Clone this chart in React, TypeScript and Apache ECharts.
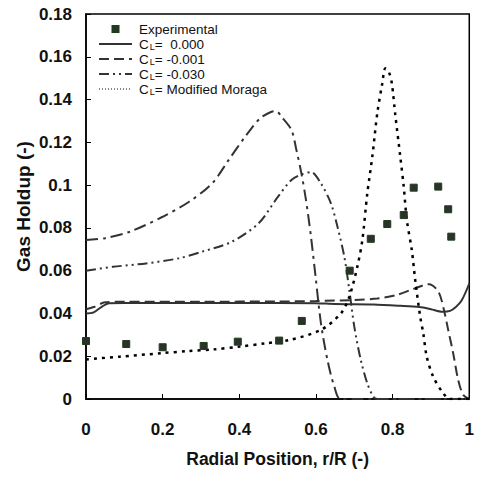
import React, { useEffect, useRef } from "react";
import * as echarts from "echarts";

const expX = [0, 0.105, 0.2, 0.307, 0.396, 0.504, 0.563, 0.688, 0.743, 0.786, 0.829, 0.855, 0.919, 0.945, 0.953];
const expY = [0.0271, 0.0257, 0.0242, 0.0248, 0.0268, 0.0273, 0.0365, 0.06, 0.0749, 0.0818, 0.086, 0.0988, 0.0993, 0.0887, 0.0759];

const cl0X = [0, 0.02, 0.04, 0.06, 0.1, 0.2, 0.3, 0.4, 0.5, 0.6, 0.65, 0.75, 0.82, 0.87, 0.9, 0.93, 0.95, 0.965, 0.98, 1.0];
const cl0Y = [0.04, 0.0405, 0.043, 0.0448, 0.0449, 0.0449, 0.0449, 0.0449, 0.0449, 0.0448, 0.0444, 0.0442, 0.0436, 0.043, 0.042, 0.0408, 0.0412, 0.043, 0.046, 0.054];

const cl1X = [0, 0.02, 0.05, 0.1, 0.3, 0.5, 0.6, 0.7, 0.76, 0.81, 0.855, 0.895, 0.92, 0.936, 0.945, 0.958, 0.971, 0.984, 1.0];
const cl1Y = [0.042, 0.043, 0.0452, 0.0455, 0.0455, 0.0456, 0.0458, 0.0463, 0.047, 0.0486, 0.0515, 0.0537, 0.05, 0.04, 0.0323, 0.0214, 0.009, 0.002, 0];

const upperX = [0, 0.05, 0.114, 0.2, 0.269, 0.329, 0.372, 0.415, 0.454, 0.484, 0.496, 0.51, 0.536, 0.549, 0.562, 0.574, 0.587, 0.6, 0.613, 0.63, 0.648, 0.665, 1.0];
const upperY = [0.0743, 0.0752, 0.0782, 0.0852, 0.0922, 0.1008, 0.1117, 0.1226, 0.1312, 0.1343, 0.1346, 0.132, 0.1258, 0.1164, 0.1055, 0.093, 0.0759, 0.0556, 0.0354, 0.0182, 0.0058, 0, 0];

const cl30X = [0, 0.07, 0.157, 0.243, 0.303, 0.38, 0.45, 0.501, 0.536, 0.565, 0.587, 0.613, 0.639, 0.656, 0.674, 0.687, 0.7, 0.717, 0.734, 0.75, 0.76, 1.0];
const cl30Y = [0.06, 0.0618, 0.0634, 0.0658, 0.0689, 0.0735, 0.0821, 0.0946, 0.1024, 0.1052, 0.1061, 0.1008, 0.0915, 0.0806, 0.0665, 0.051, 0.0338, 0.0182, 0.0073, 0.001, 0, 0];

const morX = [0, 0.088, 0.196, 0.264, 0.333, 0.402, 0.467, 0.531, 0.613, 0.665, 0.687, 0.708, 0.721, 0.734, 0.747, 0.76, 0.773, 0.781, 0.79, 0.798, 0.807, 0.82, 0.829, 0.837, 0.85, 0.859, 0.872, 0.88, 0.889, 0.906, 0.932, 0.95, 1.0];
const morY = [0.0185, 0.0198, 0.0214, 0.0224, 0.0232, 0.0245, 0.026, 0.0276, 0.0323, 0.04, 0.0478, 0.0619, 0.0743, 0.0962, 0.1133, 0.1336, 0.1475, 0.1546, 0.153, 0.1475, 0.1328, 0.1133, 0.0993, 0.0837, 0.0697, 0.0556, 0.0385, 0.0307, 0.0198, 0.0104, 0.0027, 0, 0];

const xTicks = { min: 0, max: 1, interval: 0.2 };
const yTicks = { min: 0, max: 0.18, interval: 0.02 };

const zip = (xs: number[], ys: number[]) => xs.map((x, i) => [x, ys[i]]);

const FONT = "'Liberation Sans', Arial, sans-serif";
const LINE = "#333333";
const HIDE_SYMBOL = { color: "transparent", opacity: 0, borderWidth: 0 };

export default function App() {
  const ref = useRef<HTMLDivElement>(null);
  useEffect(() => {
    if (!ref.current) return;
    const chart = echarts.init(ref.current, undefined, { renderer: "svg" });
    const legendText = (name: string) => {
      if (name === "Experimental") return "Experimental";
      return "C{sub|L}" + name.replace(/^CL/, "");
    };
    chart.setOption({
      animation: false,
      backgroundColor: "#ffffff",
      grid: {
        left: 86,
        right: 4,
        top: 14,
        bottom: 78,
        show: true,
        borderColor: "#000",
        borderWidth: 1.5,
        backgroundColor: "transparent",
      },
      legend: {
        orient: "vertical",
        left: 93,
        top: 17,
        itemWidth: 33,
        itemHeight: 6,
        itemGap: 1,
        symbolKeepAspect: true,
        selectedMode: false,
        formatter: legendText,
        textStyle: {
          fontFamily: FONT,
          fontSize: 13.5,
          lineHeight: 14,
          color: "#111",
          padding: [0, 0, 0, 2],
          rich: {
            sub: { fontFamily: FONT, fontSize: 9, lineHeight: 9, verticalAlign: "bottom", color: "#111", padding: [0, 0, 0, 1] },
          },
        },
        data: [
          { name: "Experimental", icon: "path://M0,0h1v1h-1z" },
          { name: "CL=  0.000", itemStyle: HIDE_SYMBOL },
          { name: "CL= -0.001", itemStyle: HIDE_SYMBOL },
          { name: "CL= -0.030", itemStyle: HIDE_SYMBOL },
          { name: "CL= Modified Moraga", itemStyle: HIDE_SYMBOL, lineStyle: { type: [1, 2], width: 1.2, color: "#111" } },
        ],
      },
      xAxis: {
        type: "value",
        ...xTicks,
        name: "Radial Position, r/R (-)",
        nameLocation: "middle",
        nameGap: 51,
        nameTextStyle: { fontFamily: FONT, fontWeight: "bold", fontSize: 17.5, color: "#111" },
        axisLine: { show: true, lineStyle: { color: "#000", width: 1.5 } },
        axisTick: { show: true, inside: true, length: 5, lineStyle: { color: "#000", width: 1 } },
        axisLabel: { margin: 22, fontFamily: FONT, fontWeight: "bold", fontSize: 17, color: "#111" },
        splitLine: { show: false },
      },
      yAxis: {
        type: "value",
        ...yTicks,
        name: "Gas Holdup (-)",
        nameLocation: "middle",
        nameGap: 53,
        nameMoveOverlap: false,
        nameTextStyle: { fontFamily: FONT, fontWeight: "bold", fontSize: 19, color: "#111" },
        axisLine: { show: true, lineStyle: { color: "#000", width: 1.5 } },
        axisTick: { show: true, inside: true, length: 5, lineStyle: { color: "#000", width: 1 } },
        axisLabel: { margin: 14, fontFamily: FONT, fontWeight: "bold", fontSize: 17, color: "#111" },
        splitLine: { show: false },
      },
      series: [
        {
          name: "CL=  0.000",
          type: "line",
          data: zip(cl0X, cl0Y),
          symbol: "none",
          smooth: 0.3,
          lineStyle: { color: LINE, width: 2, type: "solid" },
          itemStyle: { color: LINE },
          z: 3,
        },
        {
          name: "CL= -0.001",
          type: "line",
          data: zip(cl1X, cl1Y),
          symbol: "none",
          smooth: 0.3,
          lineStyle: { color: LINE, width: 2, type: [10, 5] },
          itemStyle: { color: LINE },
          z: 3,
        },
        {
          name: "CL= -0.030",
          type: "line",
          data: zip(cl30X, cl30Y),
          symbol: "none",
          smooth: 0.3,
          lineStyle: { color: LINE, width: 2, type: [10, 4, 2, 4, 2, 4] },
          itemStyle: { color: LINE },
          z: 3,
        },
        {
          name: "upper",
          type: "line",
          data: zip(upperX, upperY),
          symbol: "none",
          smooth: 0.3,
          lineStyle: { color: LINE, width: 2, type: [12, 5, 3, 5] },
          itemStyle: { color: LINE },
          z: 3,
        },
        {
          name: "CL= Modified Moraga",
          type: "line",
          data: zip(morX, morY),
          symbol: "none",
          smooth: 0.3,
          lineStyle: { color: "#000", width: 2.5, type: [3, 5] },
          itemStyle: { color: "#000" },
          z: 3,
        },
        {
          name: "Experimental",
          type: "scatter",
          data: zip(expX, expY),
          symbol: "rect",
          symbolSize: 7,
          clip: false,
          itemStyle: { color: "#2c312c", borderColor: "#1c3d1c", borderWidth: 1, opacity: 1 },
          z: 5,
        },
      ],
    });
    return () => chart.dispose();
  }, []);
  return (
    <div
      ref={ref}
      style={{ position: "absolute", left: 0, top: 0, width: 477, height: 477 }}
    />
  );
}
